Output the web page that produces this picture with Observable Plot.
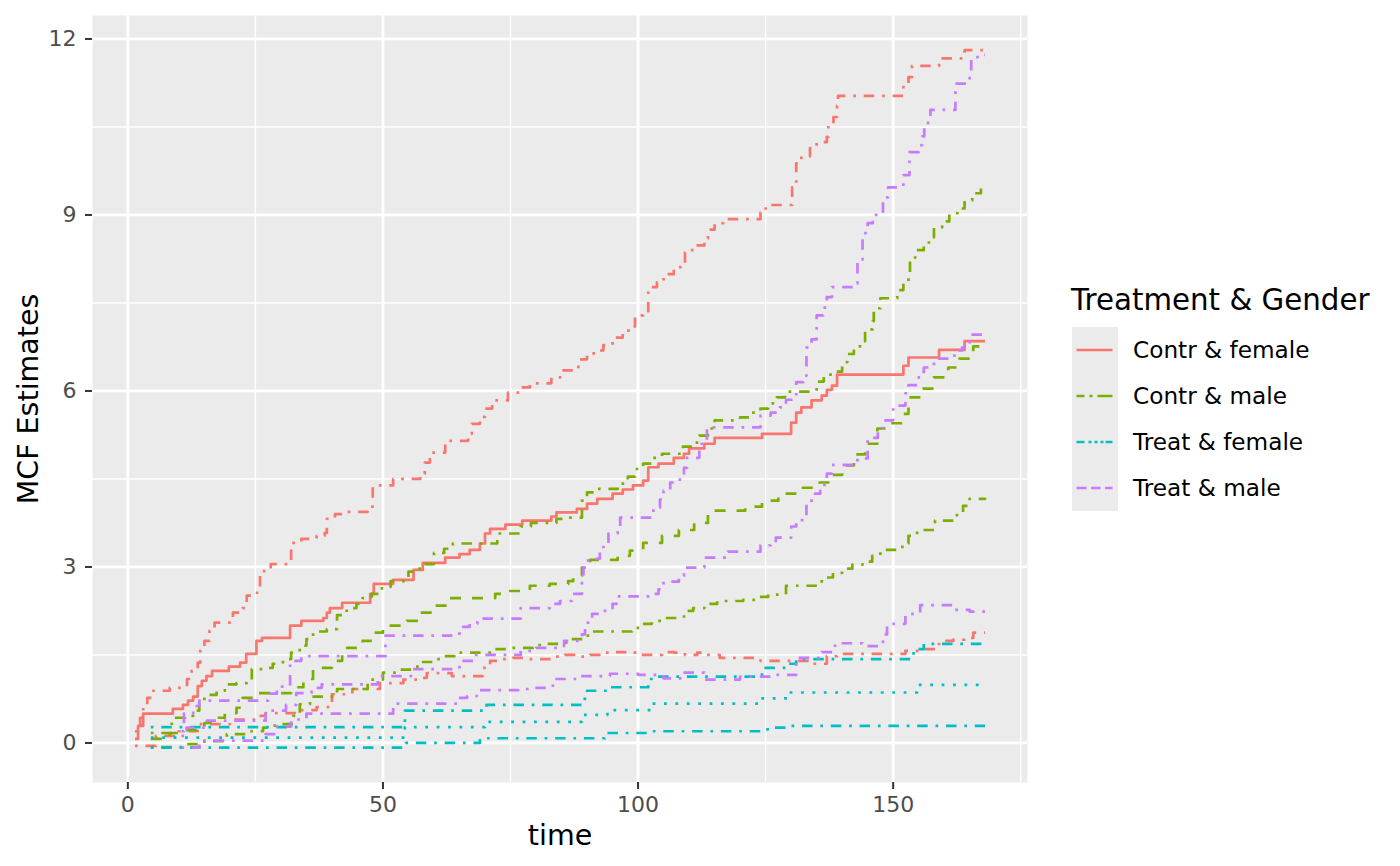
<!DOCTYPE html>
<html>
<head>
<meta charset="utf-8">
<script src="https://cdn.jsdelivr.net/npm/d3@7"></script>
<script src="https://cdn.jsdelivr.net/npm/@observablehq/plot@0.6"></script>
<style>
  html, body { margin: 0; padding: 0; background: white; }
  #wrap { position: relative; width: 1400px; height: 866px; font-family: "DejaVu Sans", sans-serif; }
  #legend { position: absolute; left: 0; top: 0; }
</style>
</head>
<body>
<div id="wrap"><div id="chart"></div><svg id="legend" width="1400" height="866"></svg></div>
<script>
// ---- Data (time, MCF) step points ----
const groups = ["Contr & female", "Contr & male", "Treat & female", "Treat & male"];
const groupColors = ["#F8766D", "#7CAE00", "#00BFC4", "#C77CFF"];
const xTicks = [0, 50, 100, 150];
const xMinor = [25, 75, 125, 175];
const yTicks = [0, 3, 6, 9, 12];
const yMinor = [1.5, 4.5, 7.5, 10.5];

// Contr & female
const contrFemaleMCF = [[1.4,0.07],[2.0,0.29],[3.0,0.5],[8.8,0.58],[10.8,0.65],[11.8,0.72],[12.8,0.79],[13.7,0.97],[14.5,1.06],[15.4,1.14],[16.5,1.23],[19.8,1.3],[22.0,1.37],[23.2,1.52],[25.2,1.74],[26.3,1.79],[31.8,2.0],[34.0,2.08],[38.3,2.13],[39.0,2.22],[39.6,2.3],[42.0,2.39],[47.5,2.54],[48.2,2.71],[52.0,2.78],[56.0,2.95],[57.8,3.07],[62.2,3.16],[65,3.22],[67,3.29],[69,3.4],[70,3.57],[71,3.65],[74,3.72],[77.3,3.79],[83,3.86],[84,3.93],[88,3.99],[90,4.08],[92,4.16],[95,4.25],[97,4.32],[99,4.39],[101,4.47],[102,4.7],[104,4.76],[107,4.86],[109,4.93],[110,5.02],[113,5.1],[115,5.2],[124.3,5.27],[130,5.46],[131,5.63],[132,5.72],[134,5.84],[136,5.92],[137,6.02],[138,6.09],[139,6.28],[152,6.43],[153,6.57],[159,6.7],[164,6.85],[168,6.85]];
const contrFemaleUpper = [[1.4,0.2],[2.4,0.43],[3.0,0.63],[3.8,0.77],[4.7,0.89],[8.2,0.94],[11.6,1.09],[12.5,1.23],[13.7,1.37],[14.2,1.62],[15,1.74],[16,1.91],[17,2.05],[20.6,2.22],[22.5,2.3],[23.3,2.51],[25,2.56],[25.9,2.93],[28,3.05],[32,3.41],[34,3.48],[37,3.53],[38.6,3.58],[39,3.82],[40.6,3.9],[43,3.94],[47,4.03],[48,4.39],[52,4.5],[57.3,4.59],[58.2,4.78],[59.2,4.95],[62.2,5.15],[66.7,5.27],[67.4,5.44],[69,5.56],[70,5.7],[71.4,5.84],[74.5,5.97],[76.9,6.06],[78.8,6.13],[83,6.23],[84.7,6.35],[88.3,6.54],[90,6.64],[92,6.69],[93.2,6.78],[95,6.91],[97,7.03],[98.4,7.1],[99.4,7.29],[101,7.36],[102,7.77],[103.7,7.85],[105,7.99],[107,8.11],[108.6,8.18],[109.2,8.36],[110.6,8.48],[113,8.6],[113.7,8.75],[115,8.86],[116.7,8.93],[124,9.04],[125,9.17],[130.2,9.47],[131,9.88],[132,10.0],[133.7,10.14],[135,10.24],[137,10.33],[137.3,10.53],[138.3,10.67],[139,10.86],[139.2,11.03],[152,11.18],[153,11.35],[153.7,11.54],[159,11.67],[164,11.81],[168,11.81]];
const contrFemaleLower = [[1.4,-0.05],[5.5,0.12],[9,0.15],[10,0.2],[14,0.32],[20,0.4],[25.5,0.46],[27,0.51],[32.7,0.56],[37,0.61],[40,0.83],[44,0.92],[49.4,1.02],[54,1.08],[57,1.11],[58.6,1.19],[63.5,1.14],[69.6,1.28],[71,1.4],[73.3,1.43],[75.5,1.45],[78,1.43],[83.4,1.47],[85.7,1.5],[88.3,1.47],[90.6,1.5],[93,1.54],[95.5,1.55],[97.8,1.54],[100.4,1.5],[104.7,1.55],[107,1.54],[109.2,1.5],[111.6,1.54],[113.5,1.5],[116,1.45],[124,1.4],[133.7,1.35],[137,1.48],[139,1.52],[152.4,1.57],[155,1.6],[159,1.74],[161.8,1.76],[164,1.79],[165.7,1.88],[168,1.88]];

// Contr & male
const contrMaleMCF = [[4.5,0.07],[8.2,0.17],[10.8,0.22],[13.5,0.27],[15,0.34],[16.7,0.43],[19,0.51],[21.3,0.6],[22.5,0.77],[25.3,0.85],[32,0.95],[34.4,1.09],[36.3,1.28],[40,1.4],[42,1.62],[46,1.74],[48,1.88],[50,2.0],[54.7,2.08],[57,2.22],[60,2.34],[62.7,2.47],[72,2.54],[74.5,2.59],[78.8,2.68],[82.7,2.71],[86.3,2.76],[87.3,2.85],[89,2.99],[90.6,3.12],[96,3.19],[98.4,3.28],[101,3.41],[104.7,3.53],[108,3.63],[111,3.75],[113.7,3.96],[121,4.03],[124.3,4.13],[127.5,4.25],[130.8,4.35],[134.7,4.44],[137.3,4.57],[140,4.73],[142.3,4.92],[144.5,5.1],[146.9,5.36],[149.4,5.45],[151.8,5.61],[153,5.89],[155.7,6.04],[158,6.23],[160.8,6.4],[163,6.55],[165.7,6.76],[168,6.76]];
const contrMaleUpper = [[4.5,0.17],[8.6,0.43],[11.2,0.46],[12.8,0.55],[14,0.68],[15,0.82],[17.4,0.89],[19,1.0],[21.3,1.02],[23.3,1.07],[24.3,1.26],[26.5,1.28],[28.4,1.35],[30.4,1.43],[32,1.54],[33.7,1.66],[35,1.77],[36.3,1.9],[39,1.94],[41,2.18],[42.9,2.3],[44.8,2.37],[46,2.47],[47.8,2.54],[49.8,2.66],[51.5,2.76],[55,2.92],[57.2,3.05],[60,3.24],[62,3.31],[63.7,3.4],[72.4,3.57],[77,3.69],[79,3.75],[84,3.82],[86.7,3.84],[89,4.13],[90,4.27],[92,4.33],[96,4.42],[98,4.54],[99.4,4.67],[101,4.76],[102.7,4.86],[104.7,4.93],[108.8,5.05],[110.8,5.12],[112,5.24],[113.7,5.36],[115,5.5],[120,5.55],[122,5.63],[124,5.7],[125.5,5.79],[127.2,5.89],[128.8,5.99],[135,6.16],[136.4,6.28],[138.7,6.33],[140,6.49],[141,6.63],[142.3,6.76],[144,6.85],[144.5,7.05],[146,7.19],[146.2,7.41],[147.5,7.58],[150.8,7.72],[152,7.85],[153,8.0],[153.3,8.23],[154.3,8.4],[156,8.48],[157,8.62],[158,8.79],[159.6,8.89],[161,9.03],[162.6,9.11],[164,9.25],[165.5,9.37],[167.2,9.47],[168,9.47]];
const contrMaleLower = [[4.5,-0.07],[11,-0.02],[15,0.03],[19.4,0.15],[23.3,0.2],[26.5,0.26],[28.8,0.32],[32.4,0.46],[33.7,0.66],[35.7,0.79],[41,0.92],[47,1.08],[50,1.2],[53,1.25],[55.7,1.3],[57.6,1.38],[59.8,1.43],[62,1.48],[64,1.54],[72,1.6],[74.3,1.62],[79.4,1.67],[82,1.69],[84.7,1.71],[87,1.77],[89.2,1.83],[91,1.9],[98.8,1.96],[100.4,2.03],[102.7,2.08],[105,2.13],[109,2.25],[110.8,2.3],[113,2.37],[115.5,2.42],[120.6,2.44],[123,2.49],[125.5,2.53],[129,2.68],[136,2.82],[138.2,2.9],[140,2.97],[142,3.04],[144,3.09],[145.9,3.19],[147.5,3.29],[151.8,3.4],[153,3.53],[154.7,3.63],[158.2,3.79],[162.5,3.91],[163.7,4.04],[165,4.16],[168,4.18]];

// Treat & female
const treatFemaleMCF = [[4.5,0.09],[54.3,0.27],[70,0.36],[89,0.48],[94,0.56],[102.5,0.67],[124,0.76],[129.3,0.86],[154.7,0.99],[168,0.99]];
const treatFemaleUpper = [[4.5,0.27],[54.3,0.55],[70.3,0.65],[89,0.75],[90,0.89],[94.5,0.95],[102,1.09],[103.3,1.13],[124.3,1.28],[129,1.35],[131,1.43],[154,1.6],[156,1.69],[168,1.69]];
const treatFemaleLower = [[4.5,-0.08],[54.5,0.0],[69,0.08],[93.5,0.17],[101.8,0.2],[124,0.23],[126.5,0.26],[129,0.29],[168,0.29]];

// Treat & male
const treatMaleMCF = [[10.5,0.12],[11.5,0.26],[15.5,0.38],[27,0.55],[31,0.65],[33,0.85],[36,0.94],[38,1.0],[49,1.14],[55.5,1.26],[65,1.4],[68,1.5],[77,1.57],[80,1.62],[85.5,1.74],[89,1.85],[89.6,2.05],[91,2.2],[93,2.25],[95,2.37],[96,2.5],[103,2.54],[104,2.62],[105,2.75],[108,2.85],[109,2.99],[113,3.16],[117.6,3.26],[124,3.37],[126,3.41],[127,3.5],[130,3.69],[131,3.8],[133,4.13],[134.7,4.25],[135.7,4.4],[137,4.59],[138,4.74],[143,4.85],[145,5.2],[147,5.36],[148,5.5],[150,5.75],[152.4,5.96],[153,6.1],[155,6.23],[156,6.4],[158,6.55],[162,6.69],[163.5,6.74],[165,6.96],[168,6.96]];
const treatMaleUpper = [[10.5,0.2],[11,0.5],[12.8,0.63],[14,0.72],[27.5,0.84],[29.2,0.96],[31.8,1.4],[34,1.48],[50.5,1.83],[65,1.98],[67,2.03],[68.5,2.12],[77,2.3],[82.7,2.37],[84.7,2.42],[87,2.54],[89,2.85],[89.3,2.99],[90.2,3.14],[92.5,3.34],[94.2,3.57],[96,3.65],[96.5,3.84],[103,4.01],[104.3,4.15],[105,4.3],[106.3,4.44],[108.2,4.52],[109,4.69],[109.6,4.86],[112,5.1],[113.5,5.38],[124,5.58],[126,5.63],[127.8,5.72],[129,5.85],[131,6.15],[132.4,6.26],[133,6.74],[134,6.88],[135,7.29],[136.3,7.42],[137,7.6],[138,7.77],[142.2,7.83],[143,8.24],[144,8.69],[145,8.86],[146,9.0],[148,9.3],[149,9.47],[152,9.68],[153.2,10.07],[155,10.19],[155.7,10.34],[156.1,10.57],[157.3,10.79],[162.2,11.24],[164.5,11.25],[165,11.45],[165.3,11.69],[167.6,11.73],[168,11.73]];
const treatMaleLower = [[10.5,-0.08],[14,0.04],[27,0.15],[29,0.28],[32,0.4],[35,0.5],[52,0.67],[64.5,0.77],[66.5,0.8],[68.4,0.9],[76.5,0.92],[79,0.94],[83.3,1.09],[88,1.14],[94.5,1.18],[100,1.16],[105,1.1],[108.6,1.2],[113,1.08],[120,1.13],[126,1.16],[131,1.45],[136,1.55],[138.6,1.7],[144,1.65],[148,1.85],[148.8,2.03],[152.4,2.2],[155.3,2.35],[162,2.27],[165,2.24],[168,2.2]];

// ---- styles ----
const DOTDASH = "2.7,7.8,10.5,7.8";
const centerDash = [null, "11,11", "2.8,8.6", DOTDASH];
const series = [
  {g: 0, data: contrFemaleUpper, dash: DOTDASH}, {g: 0, data: contrFemaleLower, dash: DOTDASH}, {g: 0, data: contrFemaleMCF, dash: centerDash[0]},
  {g: 1, data: contrMaleUpper, dash: DOTDASH}, {g: 1, data: contrMaleLower, dash: DOTDASH}, {g: 1, data: contrMaleMCF, dash: centerDash[1]},
  {g: 2, data: treatFemaleUpper, dash: DOTDASH}, {g: 2, data: treatFemaleLower, dash: DOTDASH}, {g: 2, data: treatFemaleMCF, dash: centerDash[2]},
  {g: 3, data: treatMaleUpper, dash: DOTDASH}, {g: 3, data: treatMaleLower, dash: DOTDASH}, {g: 3, data: treatMaleMCF, dash: centerDash[3]}
];

const LW = 2.7;
const lineMarks = series.map(s => Plot.line(s.data, {
  x: d => d[0], y: d => d[1], curve: "step-after",
  stroke: groupColors[s.g], strokeWidth: LW,
  strokeDasharray: s.dash || undefined,
  strokeLinecap: "butt", strokeLinejoin: "round"
}));

const chart = Plot.plot({
  width: 1400, height: 866,
  marginLeft: 92, marginRight: 373, marginTop: 15, marginBottom: 84,
  x: {domain: [-6.93, 176.33]},
  y: {domain: [-0.674, 12.40]},
  style: {fontFamily: "DejaVu Sans", background: "white", overflow: "visible"},
  marks: [
    Plot.frame({fill: "#EBEBEB"}),
    Plot.gridX(xMinor, {stroke: "white", strokeOpacity: 1, strokeWidth: 1.4}),
    Plot.gridY(yMinor, {stroke: "white", strokeOpacity: 1, strokeWidth: 1.4}),
    Plot.gridX(xTicks, {stroke: "white", strokeOpacity: 1, strokeWidth: 2.8}),
    Plot.gridY(yTicks, {stroke: "white", strokeOpacity: 1, strokeWidth: 2.8}),
    ...lineMarks,
    Plot.axisX(xTicks, {tickSize: 7, tickPadding: 7, fontSize: 22, stroke: "#333333", fill: "#4D4D4D", strokeWidth: 2, label: null, tickFormat: d3.format("d")}),
    Plot.axisY(yTicks, {tickSize: 7, tickPadding: 9, fontSize: 22, stroke: "#333333", fill: "#4D4D4D", strokeWidth: 2, label: null, tickFormat: d3.format("d")}),
    Plot.text(["time"], {frameAnchor: "bottom", dy: 53, lineAnchor: "middle", textAnchor: "middle", fontSize: 28.5, fill: "black"}),
    Plot.text(["MCF Estimates"], {frameAnchor: "left", dx: -64, rotate: -90, lineAnchor: "middle", textAnchor: "middle", fontSize: 28.5, fill: "black"})
  ]
});
document.getElementById("chart").appendChild(chart);

// ---- legend ----
const legendDash = [null, "8,5,3,5,15", "8,4,3,3,3,3,3,2,7", "10,4.5,9.5,4.5,7.5"];
const lg = d3.select("#legend");
lg.append("text").attr("x", 1071).attr("y", 310).attr("font-size", 29.3).attr("fill", "black")
  .attr("font-family", "DejaVu Sans").text("Treatment & Gender");
lg.append("rect").attr("x", 1072).attr("y", 327).attr("width", 46).attr("height", 184).attr("fill", "#EBEBEB");
groups.forEach((g, i) => {
  const cy = 350 + i * 46;
  lg.append("line").attr("x1", 1076.5).attr("x2", 1112.5).attr("y1", cy).attr("y2", cy)
    .attr("stroke", groupColors[i]).attr("stroke-width", LW)
    .attr("stroke-dasharray", legendDash[i] || null);
  lg.append("text").attr("x", 1133).attr("y", cy).attr("dy", "0.35em").attr("font-size", 23.2)
    .attr("font-family", "DejaVu Sans").attr("fill", "black").text(g);
});
</script>
</body>
</html>
